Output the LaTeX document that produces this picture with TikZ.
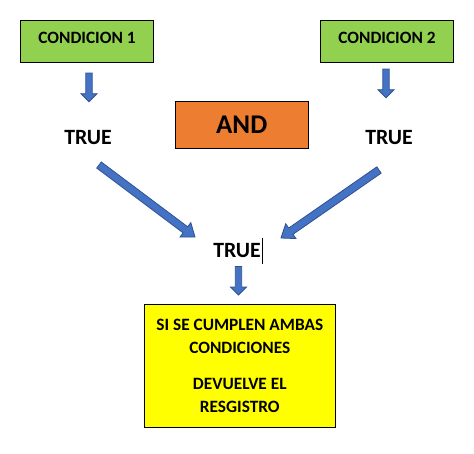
\documentclass[tikz,border=0pt]{standalone}
\usepackage{fontspec}
\setmainfont{Carlito}
\usetikzlibrary{calc}

\definecolor{verde}{HTML}{92D050}
\definecolor{naranja}{HTML}{ED7D31}
\definecolor{amarillo}{HTML}{FFFF00}
\definecolor{azul}{HTML}{4472C4}
\definecolor{azulborde}{HTML}{2F528F}

\tikzset{
  caja/.style={draw=black, line width=1pt, inner sep=0pt, align=center},
  letrachica/.style={font=\fontsize{17.3}{22.3}\selectfont\bfseries},
  letratrue/.style={font=\fontsize{21.8}{24}\selectfont\bfseries, inner sep=0pt},
  flechaestilo/.style={fill=azul, draw=azulborde, line width=0.8pt, line join=miter}
}

% flecha de bloque: cola, punta, media anchura, media cabeza, largo cabeza
\newcommand{\flecha}[5]{%
  \coordinate (fh) at ($(#2)!#5!(#1)$);
  \filldraw[flechaestilo] ($(#1)!#3!90:(#2)$) -- ($(fh)!#3!-90:(#1)$)
    -- ($(fh)!#4!-90:(#1)$) -- (#2) -- ($(fh)!#4!90:(#1)$)
    -- ($(fh)!#3!90:(#1)$) -- ($(#1)!#3!-90:(#2)$) -- cycle;
}

\begin{document}
\begin{tikzpicture}[x=1pt,y=-1pt]
    \useasboundingbox (0,0) rectangle (474,453);

    % Condiciones
    \node[caja, letrachica, fill=verde, minimum width=133pt, minimum height=42pt,
          text height=11pt, text depth=8pt] (cond1) at (87,41.5) {CONDICION 1};
    \node[caja, letrachica, fill=verde, minimum width=133pt, minimum height=42pt,
          text height=11pt, text depth=8pt] (cond2) at (387,41.5) {CONDICION 2};
    % Operador
    \node[caja, fill=naranja, minimum width=133pt, minimum height=47pt,
          font=\fontsize{27}{30}\selectfont\bfseries] (and) at (241.7,124.7) {AND};
    % Resultados
    \node[letratrue] (true1) at (88,138) {TRUE};
    \node[letratrue] (true2) at (389,138) {TRUE};
    \node[letratrue] (true3) at (237,250.5) {TRUE};
    \draw[line width=0.8pt] ([xshift=1.5pt,yshift=13pt]true3.east) -- ([xshift=1.5pt,yshift=-13pt]true3.east);
    % Registro
    \node[caja, letrachica, fill=amarillo, minimum width=191pt, minimum height=123pt]
        (registro) at (239.8,365.8) {SI SE CUMPLEN AMBAS\\CONDICIONES\\[14.4pt]DEVUELVE EL\\RESGISTRO};

    % Flechas
    \coordinate (f1a) at (89,73);   \coordinate (f1b) at (89,101.7);
    \coordinate (f2a) at (386,69);  \coordinate (f2b) at (386,97.7);
    \coordinate (f3a) at (99,165);  \coordinate (f3b) at (195,237);
    \coordinate (f4a) at (379,170); \coordinate (f4b) at (281,238);
    \coordinate (f5a) at (238.5,266.5); \coordinate (f5b) at (238.5,295);
    \flecha{f1a}{f1b}{3.2pt}{8pt}{8pt}
    \flecha{f2a}{f2b}{3.2pt}{8pt}{8pt}
    \flecha{f3a}{f3b}{3.8pt}{9pt}{12pt}
    \flecha{f4a}{f4b}{3.8pt}{9pt}{12pt}
    \flecha{f5a}{f5b}{3.2pt}{8pt}{8pt}
\end{tikzpicture}
\end{document}
